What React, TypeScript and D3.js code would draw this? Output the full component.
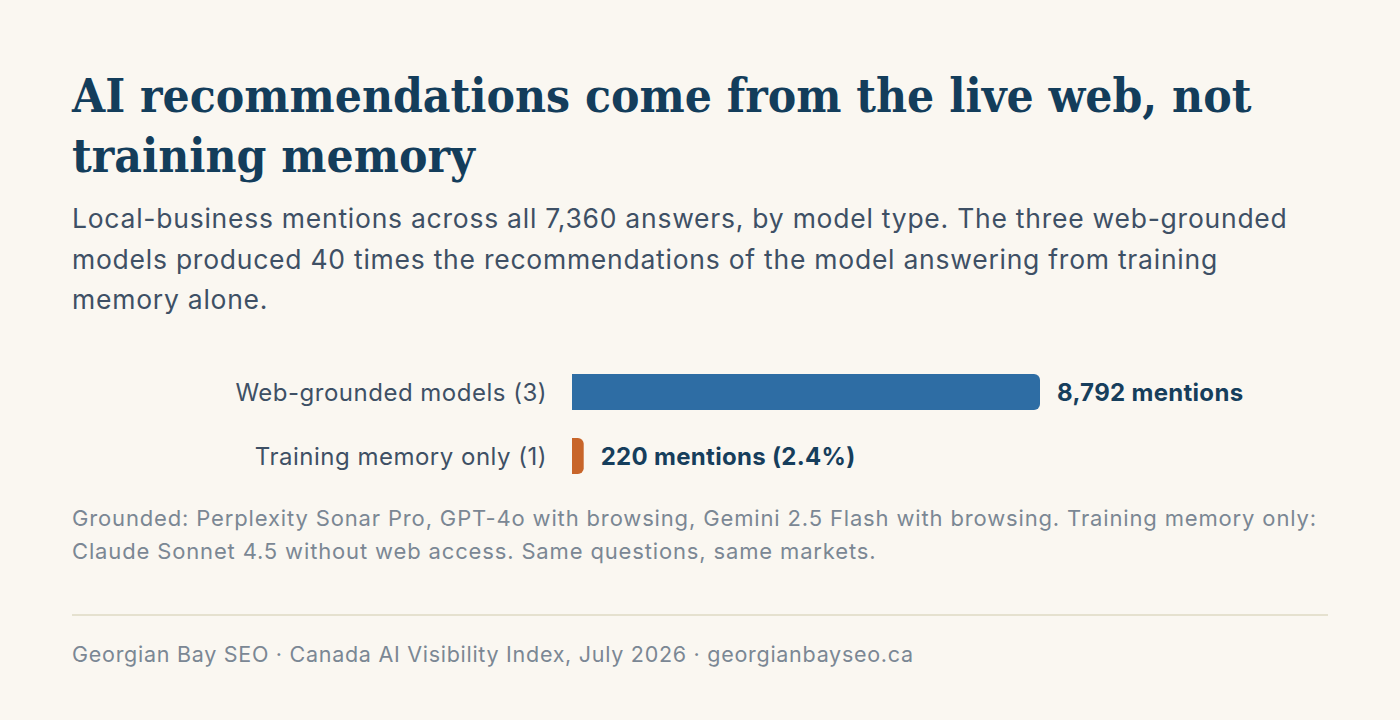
import * as d3 from 'd3';

const categories = ['Web-grounded models (3)', 'Training memory only (1)'];
const mentions = [8792, 220];
const valueLabels = ['8,792 mentions', '220 mentions (2.4%)'];
const barColors = ['#2e6da4', '#c8652a'];

const titleLines = ['AI recommendations come from the live web, not', 'training memory'];
const subtitleLines = [
  'Local-business mentions across all 7,360 answers, by model type. The three web-grounded',
  'models produced 40 times the recommendations of the model answering from training',
  'memory alone.',
];
const noteLines = [
  'Grounded: Perplexity Sonar Pro, GPT-4o with browsing, Gemini 2.5 Flash with browsing. Training memory only:',
  'Claude Sonnet 4.5 without web access. Same questions, same markets.',
];
const footer = 'Georgian Bay SEO · Canada AI Visibility Index, July 2026 · georgianbayseo.ca';

const W = 1400;
const H = 720;
const sans = 'Inter, "Noto Sans", sans-serif';
const serif = '"DejaVu Serif", serif';

// bar with square left end and rounded right end
function barPath(x0: number, y0: number, w: number, h: number, r: number): string {
  const rr = Math.min(r, w / 2, h / 2);
  const p = d3.path();
  p.moveTo(x0, y0);
  p.lineTo(x0 + w - rr, y0);
  p.arcTo(x0 + w, y0, x0 + w, y0 + rr, rr);
  p.lineTo(x0 + w, y0 + h - rr);
  p.arcTo(x0 + w, y0 + h, x0 + w - rr, y0 + h, rr);
  p.lineTo(x0, y0 + h);
  p.closePath();
  return p.toString();
}

export default function App() {
  const left = 572;
  const x = d3.scaleLinear().domain([0, d3.max(mentions) as number]).range([0, 468]);
  const y = d3.scaleBand<string>().domain(categories).range([374, 474]).paddingInner(0.4375);

  return (
    <>
      <style>{'body{margin:0;background:#faf7f1}'}</style>
      <svg xmlns="http://www.w3.org/2000/svg" width={W} height={H} style={{ display: 'block' }}>
        <rect width={W} height={H} fill="#faf7f1" />

        <g fill="#133d5b" fontFamily={serif} fontWeight={700} fontSize={47.5} style={{ fontStretch: 'condensed' }}>
          {titleLines.map((t, i) => (
            <text key={i} x={72} y={112 + i * 60}>{t}</text>
          ))}
        </g>

        <g fill="#3e5065" fontFamily={sans} fontSize={26.5} letterSpacing={0.75}>
          {subtitleLines.map((t, i) => (
            <text key={i} x={72} y={228 + i * 40.5}>{t}</text>
          ))}
        </g>

        {categories.map((c, i) => {
          const by = y(c) as number;
          const bh = y.bandwidth();
          const w = x(mentions[i]);
          return (
            <g key={c}>
              <text x={547} y={by + bh / 2 + 8.5} textAnchor="end" fill="#3e5065" fontFamily={sans} fontSize={24} letterSpacing={0.5}>
                {c}
              </text>
              <path d={barPath(left, by, w, bh, 6)} fill={barColors[i]} />
              <text x={left + w + 17} y={by + bh / 2 + 8.5} fill="#163e5c" fontFamily={sans} fontWeight={700} fontSize={24} letterSpacing={0.3}>
                {valueLabels[i]}
              </text>
            </g>
          );
        })}

        <g fill="#7b8794" fontFamily={sans} fontSize={22} letterSpacing={0.85}>
          {noteLines.map((t, i) => (
            <text key={i} x={72} y={526 + i * 33}>{t}</text>
          ))}
        </g>

        <line x1={72} x2={1328} y1={615} y2={615} stroke="#e5e1cf" strokeWidth={2} />

        <text x={72} y={662} fill="#7b8794" fontFamily={sans} fontSize={21.5} letterSpacing={0.72}>{footer}</text>
      </svg>
    </>
  );
}
